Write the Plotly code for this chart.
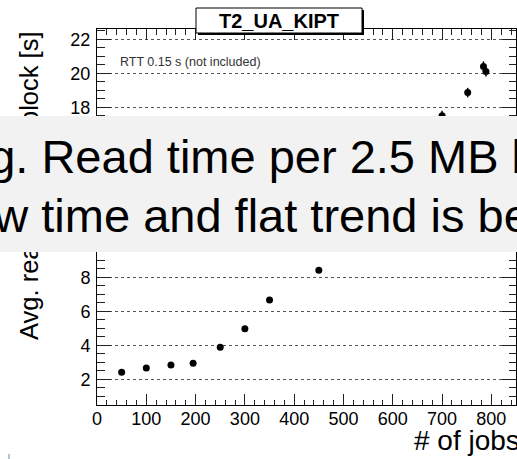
import plotly.graph_objects as go

# ---- data ----
jobs_low = [50, 100, 150, 195, 250, 300, 350, 450]
time_low = [2.41, 2.66, 2.84, 2.94, 3.88, 4.98, 6.66, 8.41]
err_low = [0.05, 0.05, 0.05, 0.05, 0.05, 0.06, 0.07, 0.08]

jobs_high = [700, 752, 784, 789]
time_high = [17.5, 18.86, 20.4, 20.1]
err_high = [0.3, 0.28, 0.3, 0.3]

title_text = "T2_UA_KIPT"
note_text = "RTT 0.15 s (not included)"
x_title = "# of jobs"
y_title = "Avg. read time per block [s]"
banner_line1 = "Fig. Read time per 2.5 MB block"
banner_line2 = "Low time and flat trend is better"

W, H = 517, 459
ML, MR, MT, MB = 97, 1, 29, 54
PW, PH = W - ML - MR, H - MT - MB


def px(x):
    return (x - ML) / PW


def py(y):
    return (H - MB - y) / PH


FONT = "Liberation Sans, Arial, Helvetica, sans-serif"

fig = go.Figure()
fig.add_trace(go.Scatter(
    x=jobs_low + jobs_high,
    y=time_low + time_high,
    mode="markers",
    marker=dict(color="black", size=7, symbol="circle"),
    error_y=dict(type="data", array=err_low + err_high, color="black",
                 thickness=1.5, width=0),
    showlegend=False,
))

axis_common = dict(
    showline=True, linecolor="black", linewidth=1, mirror="ticks",
    ticks="inside", tickcolor="#222", zeroline=False,
    tickfont=dict(family=FONT, size=18, color="black"),
)

fig.update_xaxes(
    range=[0, 850], dtick=100, tick0=0, ticklen=11, showgrid=False,
    minor=dict(dtick=20, ticklen=5.5, ticks="inside", tickcolor="#222", showgrid=False),
    ticklabelstandoff=-3,
    **axis_common,
)
fig.update_yaxes(
    range=[0.49, 22.6], dtick=2, tick0=0, ticklen=14,
    showgrid=True, griddash="dot", gridcolor="#555", gridwidth=1,
    minor=dict(dtick=0.5, ticklen=7.5, ticks="inside", tickcolor="#222", showgrid=False),
    ticklabelstandoff=2,
    **axis_common,
)

shapes = [
    # title box shadow + box
    dict(type="rect", xref="paper", yref="paper", x0=px(198), x1=px(364), y0=py(35), y1=py(10),
         fillcolor="black", line=dict(width=0), layer="above"),
    dict(type="rect", xref="paper", yref="paper", x0=px(196), x1=px(362), y0=py(33), y1=py(8),
         fillcolor="white", line=dict(color="black", width=1), layer="above"),
    # tiny mark bottom-left
    dict(type="line", xref="paper", yref="paper", x0=px(9), x1=px(9), y0=py(459), y1=py(454),
         line=dict(color="#b0c4de", width=2), layer="above"),
]

annotations = [
    dict(text="<b>%s</b>" % title_text, xref="paper", yref="paper", x=px(279), y=py(20.5),
         xanchor="center", yanchor="middle", showarrow=False,
         font=dict(family=FONT, size=20, color="black")),
    dict(text=note_text, xref="paper", yref="paper", x=px(118), y=py(61.5),
         xanchor="left", yanchor="middle", showarrow=False,
         font=dict(family=FONT, size=12.5, color="#333")),
    dict(text=x_title, xref="paper", yref="paper", x=px(412), y=py(440),
         xanchor="left", yanchor="middle", showarrow=False,
         font=dict(family=FONT, size=28, color="black")),
    dict(text=y_title, xref="paper", yref="paper", x=px(28.5), y=py(29),
         xanchor="center", yanchor="top", showarrow=False, textangle=-90,
         font=dict(family=FONT, size=25.5, color="black")),
    # overlay banner (drawn after the axis title so it covers it)
    dict(text=" ", xref="paper", yref="paper", x=px(W / 2), y=py(184),
         xanchor="center", yanchor="middle", showarrow=False,
         width=W + 4, height=136, bgcolor="#f2f2f2", borderpad=0, borderwidth=0,
         font=dict(family=FONT, size=10, color="#f2f2f2")),
    dict(text=banner_line1, xref="paper", yref="paper", x=px(-52), y=py(156.7),
         xanchor="left", yanchor="middle", showarrow=False,
         font=dict(family=FONT, size=47, color="black")),
    dict(text=banner_line2, xref="paper", yref="paper", x=px(-60), y=py(215.7),
         xanchor="left", yanchor="middle", showarrow=False,
         font=dict(family=FONT, size=47, color="black")),
]

fig.update_layout(
    width=W, height=H,
    margin=dict(l=ML, r=MR, t=MT, b=MB, pad=0),
    paper_bgcolor="white", plot_bgcolor="white",
    shapes=shapes, annotations=annotations,
    font=dict(family=FONT),
)

fig.write_html("out.html")
